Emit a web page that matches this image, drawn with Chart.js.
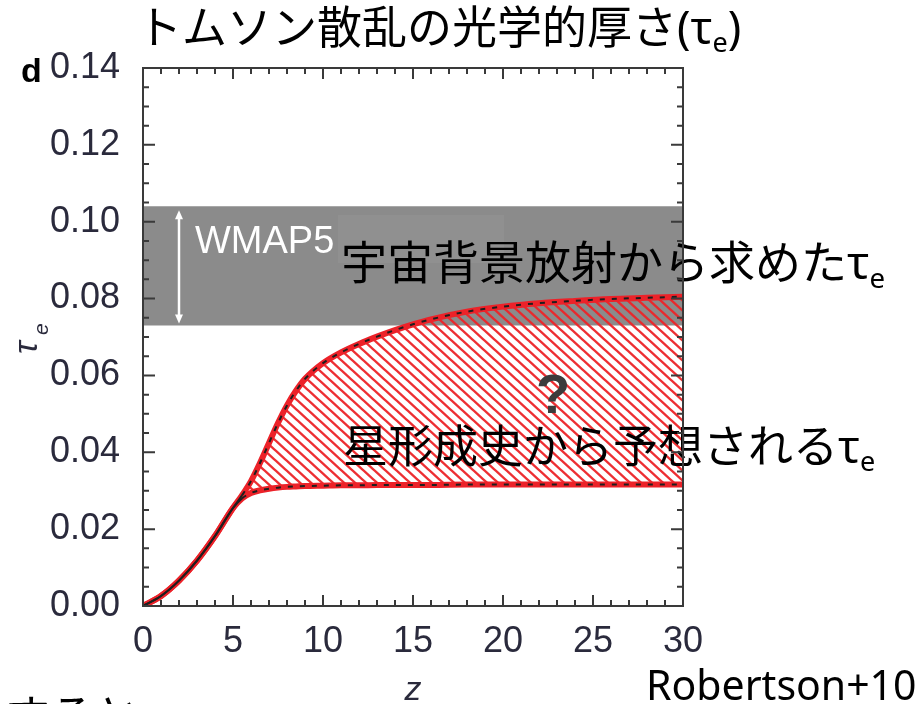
<!DOCTYPE html>
<html><head><meta charset="utf-8">
<script src="https://cdn.jsdelivr.net/npm/chart.js@4/dist/chart.umd.min.js"></script>
<style>html,body{margin:0;padding:0;background:#fff;}canvas{display:block;}</style>
</head><body>
<canvas id="c" width="923" height="704"></canvas>
<script>
// ---- data ----
const redshift = [0,1,2,3,4,5,5.5,6,6.5,7,7.5,8,8.5,9,10,11,12,13,14,15,16,18,20,22,24,26,28,30];
const tauUpper = [0,0.0026,0.0066,0.0118,0.0182,0.0255,0.0288,0.0325,0.0372,0.0424,0.0476,0.0522,0.0560,0.0591,0.0632,0.0660,0.0682,0.0701,0.0718,0.0733,0.0746,0.0766,0.0779,0.0788,0.0794,0.0799,0.0802,0.0805];
const tauLower = [0,0.0026,0.0066,0.0118,0.0182,0.0255,0.0280,0.0294,0.0301,0.0305,0.0308,0.0310,0.0311,0.0312,0.0313,0.0314,0.0314,0.0315,0.0315,0.0315,0.0315,0.0316,0.0316,0.0316,0.0316,0.0316,0.0316,0.0316];
const wmapRange = [0.073, 0.104];
const zRange = [0, 30];
const xTickLabels = ['0','5','10','15','20','25','30'];
const yTickLabels = ['0.00','0.02','0.04','0.06','0.08','0.10','0.12','0.14'];
const titleText = 'トムソン散乱の光学的厚さ(τ';
const cmbText = '宇宙背景放射から求めたτ';
const sfText = '星形成史から予想されるτ';
const creditText = 'Robertson+10';
const bottomText = 'すると';

const pts = ys => redshift.map((z,i)=>({x:z,y:ys[i]}));
const bandPts = v => zRange.map(z=>({x:z,y:v}));

const cv = document.getElementById('c');
const mctx = cv.getContext('2d');
function hatch(){
  const w = 11, h = 10;
  const t = document.createElement('canvas'); t.width=w; t.height=h;
  const g = t.getContext('2d');
  g.strokeStyle='rgba(236,36,40,0.95)'; g.lineWidth=2.4;
  g.beginPath();
  for(const dx of [-w,0,w]){ g.moveTo(dx-2.2,-2); g.lineTo(dx+w+2.2,h+2); }
  g.stroke();
  return mctx.createPattern(t,'repeat');
}

const RED='#ec2229';
const dashSeg = {borderDash: c => (c.p1.parsed.x <= 5.5 ? [] : [5,7])};

function drawParts(ctx, parts, x, y, size, fam){
  let cx = x;
  ctx.textAlign='left'; ctx.textBaseline='middle';
  for(const p of parts){
    const s = p.sub ? size*0.6 : size;
    ctx.font = `${s}px ${fam}`;
    ctx.fillText(p.t, cx, p.sub ? y + size*0.3 : y);
    cx += ctx.measureText(p.t).width;
  }
}

const deco = {
  id:'deco',
  afterDatasetsDraw(chart){
    const {ctx, chartArea:a, scales:{x,y}} = chart;
    ctx.save();
    ctx.fillStyle='rgba(255,255,255,0.05)';
    ctx.fillRect(338, 215, 166, 48);
    // WMAP5 arrow
    const ax = x.getPixelForValue(2);
    const yt = y.getPixelForValue(wmapRange[1]) + 4;
    const yb = y.getPixelForValue(wmapRange[0]) - 2;
    ctx.strokeStyle='#fff'; ctx.fillStyle='#fff'; ctx.lineWidth=2.5;
    ctx.beginPath(); ctx.moveTo(ax, yt+6); ctx.lineTo(ax, yb-6); ctx.stroke();
    ctx.beginPath(); ctx.moveTo(ax, yt); ctx.lineTo(ax-4, yt+9); ctx.lineTo(ax+4, yt+9); ctx.closePath(); ctx.fill();
    ctx.beginPath(); ctx.moveTo(ax, yb); ctx.lineTo(ax-4, yb-9); ctx.lineTo(ax+4, yb-9); ctx.closePath(); ctx.fill();
    ctx.font='38px "Liberation Sans", Arial, sans-serif';
    ctx.textAlign='left'; ctx.textBaseline='alphabetic';
    ctx.fillText('WMAP5', 195, 253);
    ctx.fillStyle='#3c3c3c';
    ctx.font='bold 56px "Liberation Sans", Arial, sans-serif';
    ctx.textAlign='center';
    ctx.fillText('?', 553, 413);
    ctx.restore();
  },
  afterDraw(chart){
    const {ctx, chartArea:a, scales:{x,y}} = chart;
    ctx.save();
    const fam = '"Noto Sans", "Noto Sans CJK JP", sans-serif';
    ctx.fillStyle='#000';
    drawParts(ctx, [{t:titleText},{t:'e',sub:true},{t:')'}], 137, 31, 45, fam);
    drawParts(ctx, [{t:cmbText},{t:'e',sub:true}], 341, 266, 46, fam);
    drawParts(ctx, [{t:sfText},{t:'e',sub:true}], 343, 450, 45, fam);
    ctx.font='41px "Noto Sans", sans-serif';
    ctx.textAlign='left'; ctx.textBaseline='alphabetic';
    ctx.fillText(creditText, 646, 700);
    ctx.font='45px "Noto Sans CJK JP", sans-serif';
    ctx.textBaseline='middle';
    ctx.fillText(bottomText, 5, 716);
    ctx.font='bold 34px "Liberation Sans", Arial, sans-serif';
    ctx.textBaseline='alphabetic';
    ctx.fillText('d', 21, 82);
    ctx.fillStyle='#2a2a3c';
    ctx.font='italic 34px "Liberation Sans", Arial, sans-serif';
    ctx.textAlign='center';
    ctx.fillText('z', 413, 700);
    ctx.save();
    ctx.translate(28, 345); ctx.rotate(-Math.PI/2);
    ctx.textAlign='left';
    ctx.font='italic 34px "Liberation Sans", Arial, sans-serif';
    ctx.fillText('τ', -9, 9);
    ctx.font='italic 21px "Liberation Sans", Arial, sans-serif';
    ctx.fillText('e', 10, 20);
    ctx.restore();
    // frame and inward ticks
    ctx.strokeStyle='#3a3a3a'; ctx.lineWidth=2;
    ctx.strokeRect(a.left, a.top, a.right-a.left, a.bottom-a.top);
    ctx.beginPath();
    for(let v=zRange[0]; v<=zRange[1]; v++){
      const px = x.getPixelForValue(v);
      const len = v%5===0 ? 11 : 6;
      ctx.moveTo(px, a.bottom); ctx.lineTo(px, a.bottom-len);
      ctx.moveTo(px, a.top); ctx.lineTo(px, a.top+len);
    }
    for(let k=0; k<=28; k++){
      const py = y.getPixelForValue(k*0.005);
      const len = k%4===0 ? 12 : 6;
      ctx.moveTo(a.left, py); ctx.lineTo(a.left+len, py);
      ctx.moveTo(a.right, py); ctx.lineTo(a.right-len, py);
    }
    ctx.stroke();
    ctx.restore();
  }
};

const tickFont = {family:'"Liberation Sans", Arial, sans-serif', size:36};
new Chart(cv, {
  type:'line',
  data:{datasets:[
    {data:bandPts(wmapRange[1]), fill:1, backgroundColor:'#8b8b8b', borderWidth:0, pointRadius:0, order:9},
    {data:bandPts(wmapRange[0]), fill:false, borderWidth:0, pointRadius:0, order:9},
    {data:pts(tauUpper), fill:3, backgroundColor:hatch(), borderColor:RED, borderWidth:6, pointRadius:0, cubicInterpolationMode:'monotone', order:7},
    {data:pts(tauLower), fill:false, borderColor:RED, borderWidth:6, pointRadius:0, cubicInterpolationMode:'monotone', order:7},
    {data:pts(tauUpper), fill:false, borderColor:'#1e1e1e', borderWidth:2, pointRadius:0, cubicInterpolationMode:'monotone', segment:dashSeg, order:5},
    {data:pts(tauLower), fill:false, borderColor:'#1e1e1e', borderWidth:2, pointRadius:0, cubicInterpolationMode:'monotone', segment:dashSeg, order:5}
  ]},
  options:{
    responsive:false, animation:false, devicePixelRatio:1,
    layout:{padding:{top:68, right:240, left:0, bottom:0}},
    plugins:{legend:{display:false}, tooltip:{enabled:false}},
    scales:{
      x:{type:'linear', min:zRange[0], max:zRange[1],
         afterFit:s=>{s.height=98;},
         grid:{display:false}, border:{display:false},
         ticks:{stepSize:5, font:tickFont, color:'#2a2a3c', padding:6, maxRotation:0,
                callback:(v,i)=>xTickLabels[i]}},
      y:{type:'linear', min:0, max:0.14,
         afterFit:s=>{s.width=143;},
         grid:{display:false}, border:{display:false},
         ticks:{stepSize:0.02, font:tickFont, color:'#2a2a3c', padding:15,
                callback:(v,i)=>yTickLabels[i]}}
    }
  },
  plugins:[deco]
});
</script>
</body></html>
